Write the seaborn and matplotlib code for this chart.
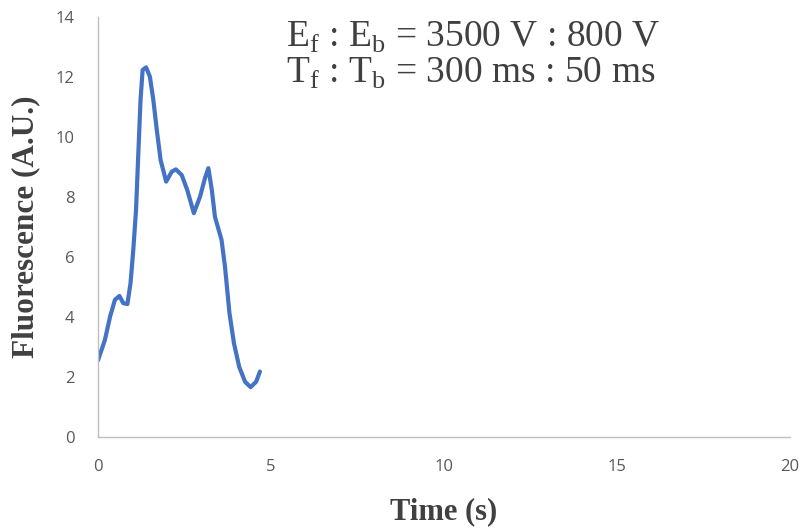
import matplotlib
matplotlib.use("Agg")
import matplotlib.pyplot as plt
import seaborn as sns
import pandas as pd

time_s = [0.0, 0.2, 0.35, 0.49, 0.62, 0.73, 0.85, 0.94, 1.02, 1.1, 1.17, 1.23,
          1.29, 1.39, 1.5, 1.6, 1.7, 1.81, 1.97, 2.13, 2.25, 2.42, 2.58, 2.77,
          2.95, 3.09, 3.19, 3.29, 3.38, 3.57, 3.67, 3.8, 3.93, 4.08, 4.25, 4.41,
          4.57, 4.68]
fluor = [2.55, 3.23, 4.01, 4.57, 4.7, 4.46, 4.43, 5.12, 6.23, 7.57, 9.57, 11.23,
         12.23, 12.32, 12.01, 11.23, 10.23, 9.23, 8.51, 8.84, 8.92, 8.73, 8.23,
         7.46, 8.01, 8.62, 8.96, 8.23, 7.34, 6.57, 5.68, 4.12, 3.12, 2.34, 1.84,
         1.66, 1.84, 2.18]
x_ticks = [0, 5, 10, 15, 20]
y_ticks = [0, 2, 4, 6, 8, 10, 12, 14]
line1 = r"E$_\mathregular{f}$ : E$_\mathregular{b}$ = 3500 V : 800 V"
line2 = r"T$_\mathregular{f}$ : T$_\mathregular{b}$ = 300 ms : 50 ms"

df = pd.DataFrame({"t": time_s, "f": fluor})

sns.set_style("white")
plt.rcParams["mathtext.fontset"] = "custom"
plt.rcParams["mathtext.rm"] = "Liberation Serif"

fig = plt.figure(figsize=(8.03, 5.29), dpi=100)
ax = fig.add_axes([0.122, 0.174, 0.862, 0.794])
sns.lineplot(data=df, x="t", y="f", ax=ax, color="#4472C4", linewidth=3.0)
for ln in ax.get_lines():
    ln.set_solid_joinstyle("round")
    ln.set_solid_capstyle("round")

ax.set_xlim(0, 20)
ax.set_ylim(0, 14)
ax.set_xticks(x_ticks)
ax.set_yticks(y_ticks)
for s in ["top", "right"]:
    ax.spines[s].set_visible(False)
for s in ["left", "bottom"]:
    ax.spines[s].set_color("#BFBFBF")
    ax.spines[s].set_linewidth(1.0)
ax.tick_params(axis="x", direction="in", length=5, width=1, color="#BFBFBF",
               labelcolor="#595959", labelsize=12, pad=16)
ax.tick_params(axis="y", direction="out", length=5, width=1, color="#BFBFBF",
               labelcolor="#595959", labelsize=12, pad=12)
for lab in ax.get_xticklabels() + ax.get_yticklabels():
    lab.set_family("Open Sans")

ax.set_xlabel("Time (s)", family="Liberation Serif", weight="bold", fontsize=22,
              color="#404040")
ax.set_ylabel("Fluorescence (A.U.)", family="Liberation Serif", weight="bold",
              fontsize=22.5, color="#404040")
ax.xaxis.set_label_coords(0.5, -0.143)
ax.yaxis.set_label_coords(-0.084, 0.5)

fig.text(286 / 803, 1 - 47 / 529, line1, family="Liberation Serif", fontsize=27,
         color="#404040", ha="left", va="baseline")
fig.text(286 / 803, 1 - 83 / 529, line2, family="Liberation Serif", fontsize=27,
         color="#404040", ha="left", va="baseline")

fig.savefig("out.png", dpi=100)
